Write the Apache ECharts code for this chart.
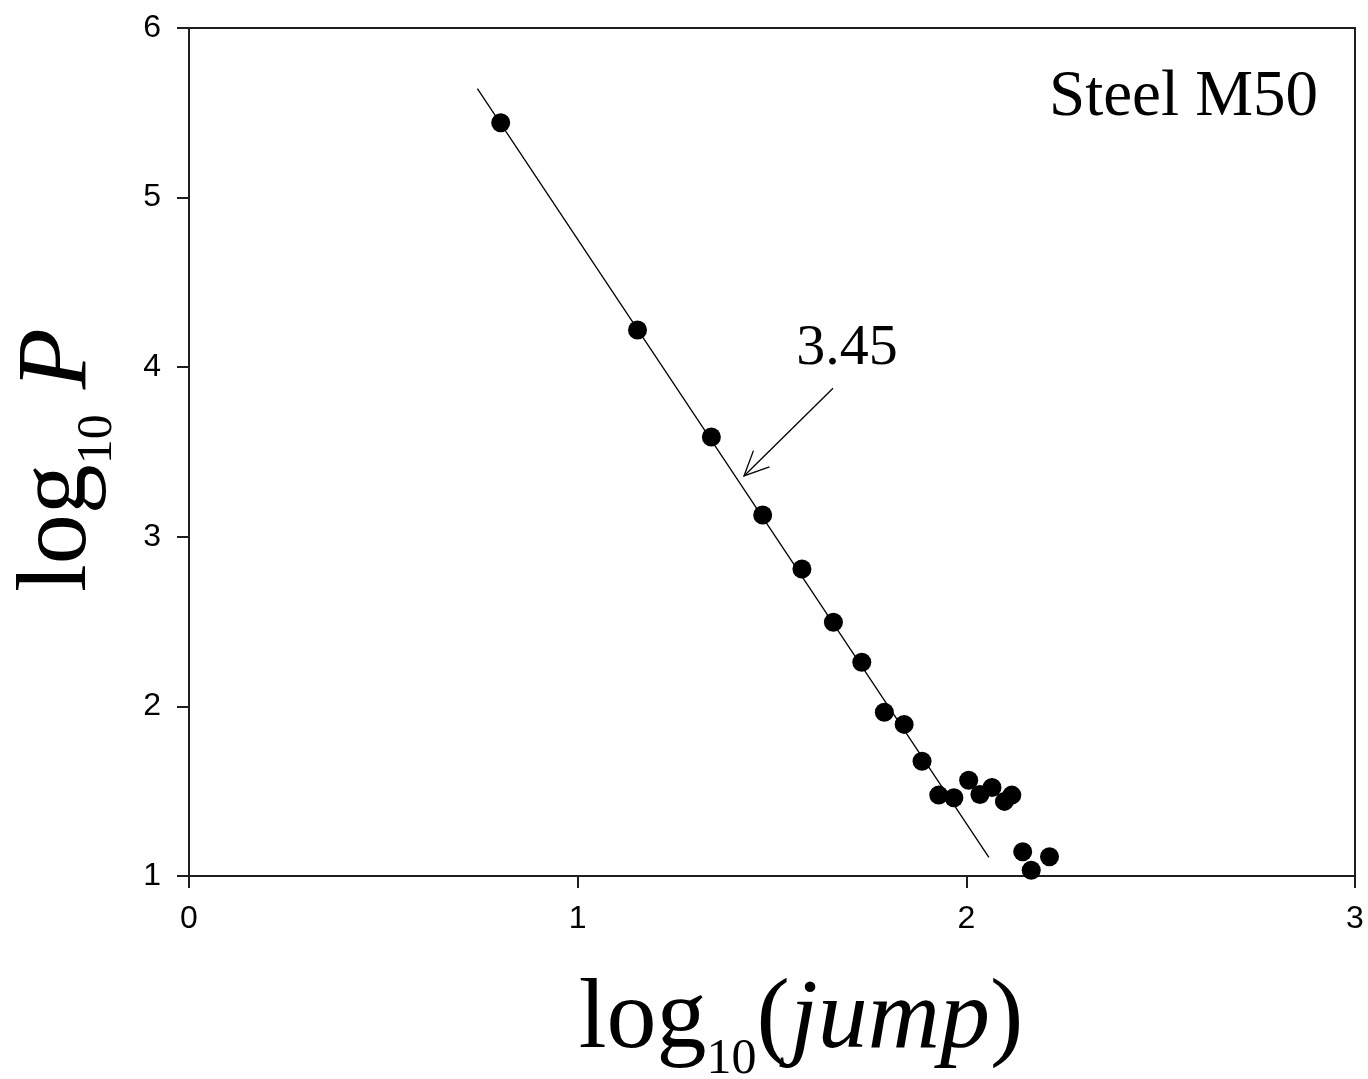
<!DOCTYPE html>
<html><head><meta charset="utf-8">
<script src="https://cdn.jsdelivr.net/npm/echarts@6/dist/echarts.min.js"></script>
<style>html,body{margin:0;padding:0;background:#fff;overflow:hidden}#c{width:1368px;height:1079px}</style>
</head><body><div id="c"></div>
<script>
// data
const jumpLog = [0.802,1.154,1.344,1.476,1.577,1.658,1.731,1.789,1.840,1.886,1.929,1.968,2.006,2.035,2.066,2.098,2.117,2.145,2.167,2.214];
const pLog    = [5.441,4.219,3.588,3.129,2.810,2.496,2.260,1.965,1.894,1.677,1.477,1.461,1.565,1.481,1.522,1.440,1.477,1.143,1.034,1.113];
const fitX = [0.742, 2.058];
const fitY = [5.642, 1.110];
const arrowFrom = [1.657, 3.876];
const arrowTo = [1.428, 3.359];
const slopeLabel = '3.45';
const materialLabel = 'Steel M50';
const xRange = [0, 3];
const yRange = [1, 6];

const SERIF = '"Liberation Serif", "DejaVu Serif", serif';
const SANS = '"Liberation Sans", Arial, sans-serif';
const AX = '#1e1e1e';

const titleRich = {
  a: {fontFamily: SERIF, fontSize: 100, lineHeight: 128, color: '#000'},
  i: {fontFamily: SERIF, fontSize: 100, lineHeight: 128, fontStyle: 'italic', color: '#000'},
  s: {fontFamily: SERIF, fontSize: 50, lineHeight: 50, verticalAlign: 'bottom', color: '#000'}
};

const chart = echarts.init(document.getElementById('c'), null, {renderer: 'canvas'});
chart.setOption({
  animation: false,
  backgroundColor: '#fff',
  grid: {left: 189, right: 13, top: 28, bottom: 203, show: true, borderColor: AX, borderWidth: 2,
         backgroundColor: 'transparent', containLabel: false, outerBoundsMode: 'none'},
  xAxis: {
    type: 'value', min: xRange[0], max: xRange[1], interval: 1,
    splitLine: {show: false},
    axisLine: {show: true, onZero: false, lineStyle: {color: AX, width: 2}},
    axisTick: {show: true, inside: false, length: 12, lineStyle: {color: AX, width: 2}},
    axisLabel: {fontFamily: SANS, fontSize: 32, color: '#000', margin: 27, showMaxLabel: true, showMinLabel: true},
    name: '{a|log}{s|10}{a|(}{i|jump}{a|)}',
    nameLocation: 'middle', nameGap: 81,
    nameTextStyle: {rich: titleRich, padding: [0, 0, 0, 58]}
  },
  yAxis: {
    type: 'value', min: yRange[0], max: yRange[1], interval: 1,
    splitLine: {show: false},
    axisLine: {show: true, onZero: false, lineStyle: {color: AX, width: 2}},
    axisTick: {show: true, inside: false, length: 12, lineStyle: {color: AX, width: 2}},
    axisLabel: {fontFamily: SANS, fontSize: 32, color: '#000', margin: 28, showMaxLabel: true, showMinLabel: true},
    name: '{a|log}{s|10}{a| }{i|P}',
    nameLocation: 'middle', nameGap: 66, nameRotate: 90,
    nameTextStyle: {rich: titleRich, padding: [0, 16, 0, 0]}
  },
  series: [
    {
      type: 'line', data: fitX.map((x, k) => [x, fitY[k]]),
      symbol: 'none', lineStyle: {color: '#000', width: 1.3}, z: 2
    },
    {
      type: 'scatter', data: jumpLog.map((x, k) => [x, pLog[k]]),
      symbol: 'circle', symbolSize: 19, itemStyle: {color: '#000', opacity: 1}, z: 3
    },
    {
      type: 'custom', z: 4,
      encode: {x: [0, 2], y: [1, 3]},
      data: [[arrowFrom[0], arrowFrom[1], arrowTo[0], arrowTo[1]]],
      renderItem: function (params, api) {
        const a = api.coord([api.value(0), api.value(1)]);
        const b = api.coord([api.value(2), api.value(3)]);
        const dx = a[0] - b[0], dy = a[1] - b[1];
        const len = Math.hypot(dx, dy);
        const ux = dx / len, uy = dy / len;
        const L = 27, ang = 25 * Math.PI / 180;
        const rot = (x, y, t) => [x * Math.cos(t) - y * Math.sin(t), x * Math.sin(t) + y * Math.cos(t)];
        const w1 = rot(ux, uy, ang), w2 = rot(ux, uy, -ang);
        return {
          type: 'group',
          children: [
            {type: 'line', shape: {x1: a[0], y1: a[1], x2: b[0], y2: b[1]}, style: {stroke: '#000', lineWidth: 1.3}},
            {type: 'polyline', shape: {points: [[b[0] + w1[0] * L, b[1] + w1[1] * L], [b[0], b[1]], [b[0] + w2[0] * L, b[1] + w2[1] * L]]},
             style: {stroke: '#000', lineWidth: 1.3, fill: null}},
            {type: 'text', x: a[0] + 14, y: a[1] - 10,
             style: {text: slopeLabel, fill: '#000', font: '58px ' + SERIF, textAlign: 'center', textVerticalAlign: 'bottom', align: 'center', verticalAlign: 'bottom'}}
          ]
        };
      }
    }
  ],
  graphic: [
    {type: 'text', right: 50, top: 65,
     style: {text: materialLabel, fill: '#000', font: '65px ' + SERIF}}
  ]
});
</script>
</body></html>
